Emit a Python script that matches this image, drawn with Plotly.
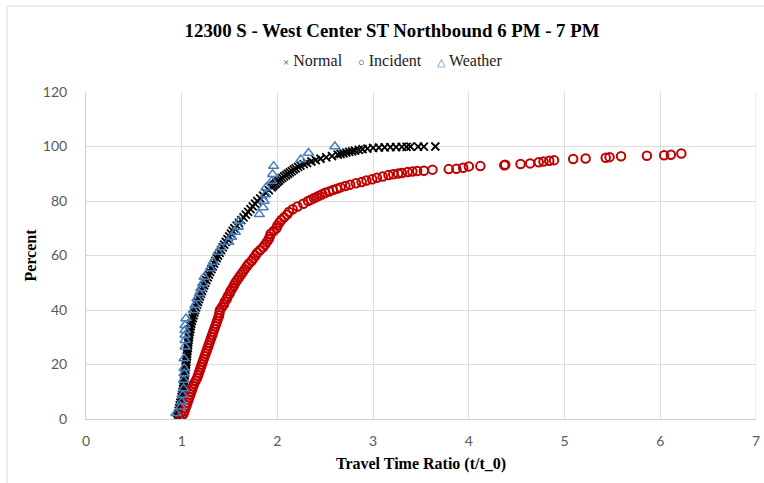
import plotly.graph_objects as go

# ---- cumulative distributions of travel time ratio (t/t_0) vs percent ----
normal_ratio = [
    0.95, 0.956, 0.962, 0.968, 0.974, 0.98, 0.986, 0.992, 0.998, 1.004, 1.01,
    1.014, 1.018, 1.022, 1.026, 1.03, 1.033, 1.036, 1.039, 1.042, 1.045,
    1.048, 1.051, 1.054, 1.057, 1.06, 1.063, 1.066, 1.069, 1.072, 1.075,
    1.08, 1.085, 1.09, 1.095, 1.10, 1.108, 1.116, 1.124, 1.132, 1.14,
    1.15, 1.16, 1.17, 1.18, 1.19, 1.201, 1.212, 1.223, 1.234, 1.245,
    1.258, 1.271, 1.284, 1.297, 1.31, 1.324, 1.338, 1.352, 1.366, 1.38,
    1.396, 1.412, 1.428, 1.444, 1.46, 1.478, 1.496, 1.514, 1.532, 1.55,
    1.574, 1.598, 1.622, 1.646, 1.67, 1.694, 1.718, 1.742, 1.766, 1.79,
    1.82, 1.85, 1.88, 1.91, 1.94, 1.955, 1.97, 1.985, 2.0, 2.015, 2.03,
    2.05, 2.07, 2.09, 2.11, 2.13, 2.15, 2.17, 2.19, 2.215, 2.24, 2.275,
    2.31, 2.355, 2.40, 2.45, 2.51, 2.57, 2.63, 2.66, 2.69, 2.72, 2.75,
    2.78, 2.81, 2.85, 2.89, 2.94, 3.0, 3.06, 3.12, 3.18, 3.24, 3.3, 3.35,
    3.39, 3.47, 3.53, 3.65,
]
normal_pct = [
    0, 1, 2, 3, 4, 5, 6, 7, 8, 9, 10,
    11, 12, 13, 14, 15, 16, 17, 18, 19, 20,
    21, 22, 23, 24, 25, 26, 27, 28, 29, 30,
    31, 32, 33, 34, 35, 36, 37, 38, 39, 40,
    41, 42, 43, 44, 45, 46, 47, 48, 49, 50,
    51, 52, 53, 54, 55, 56, 57, 58, 59, 60,
    61, 62, 63, 64, 65, 66, 67, 68, 69, 70,
    71, 72, 73, 74, 75, 76, 77, 78, 79, 80,
    81, 82, 83, 84, 85, 85.5, 86, 86.5, 87, 87.5, 88,
    88.5, 89, 89.5, 90, 90.5, 91, 91.5, 92, 92.5, 93, 93.5,
    94, 94.5, 95, 95.5, 96, 96.5, 97, 97.25, 97.5, 97.75, 98,
    98.25, 98.5, 98.75, 99, 99.25, 99.5, 99.6, 99.7, 99.75, 99.8, 99.85, 99.9,
    99.92, 99.96, 99.98, 100,
]

incident_ratio = [
    0.98, 1.0, 1.02, 1.03, 1.04, 1.05, 1.06, 1.07, 1.08, 1.09, 1.10,
    1.11, 1.12, 1.13, 1.145, 1.16, 1.17, 1.18, 1.19, 1.20, 1.21,
    1.22, 1.23, 1.24, 1.25, 1.26, 1.27, 1.28, 1.29, 1.30, 1.31,
    1.32, 1.33, 1.34, 1.35, 1.36, 1.37, 1.38, 1.39, 1.395, 1.40,
    1.42, 1.44, 1.45, 1.47, 1.48, 1.50, 1.51, 1.53, 1.545, 1.56,
    1.58, 1.60, 1.62, 1.64, 1.66, 1.68, 1.70, 1.73, 1.75, 1.77,
    1.79, 1.82, 1.85, 1.87, 1.89, 1.91, 1.92, 1.93, 1.96, 1.99,
    2.0, 2.02, 2.04, 2.07, 2.10, 2.12, 2.16, 2.21, 2.27, 2.32,
    2.35, 2.38, 2.41, 2.44, 2.47, 2.50, 2.54, 2.58, 2.62, 2.66,
    2.71, 2.76, 2.82, 2.88, 2.93, 2.99, 3.04, 3.10, 3.16, 3.21,
    3.26, 3.30, 3.36, 3.41, 3.46, 3.53, 3.62, 3.79, 3.87, 3.94,
    4.0, 4.12, 4.37, 4.38, 4.54, 4.64, 4.73, 4.78, 4.84, 4.89,
    5.09, 5.22, 5.43, 5.47, 5.59, 5.86, 6.04, 6.11, 6.22,
]
incident_pct = [
    0, 1, 2, 3, 4, 5, 6, 7, 8, 9, 10,
    11, 12, 13, 14, 15, 16, 17, 18, 19, 20,
    21, 22, 23, 24, 25, 26, 27, 28, 29, 30,
    31, 32, 33, 34, 35, 36, 37, 38, 39, 40,
    41, 42, 43, 44, 45, 46, 47, 48, 49, 50,
    51, 52, 53, 54, 55, 56, 57, 58, 59, 60,
    61, 62, 63, 64, 65, 66, 67, 68, 69, 70,
    71, 72, 73, 74, 75, 76, 77, 78, 79, 80,
    80.5, 81, 81.5, 82, 82.5, 83, 83.5, 84, 84.5, 85,
    85.5, 86, 86.5, 87, 87.5, 88, 88.5, 89, 89.5, 89.8,
    90.1, 90.3, 90.6, 90.8, 91.0, 91.1, 91.5, 91.7, 91.8, 92.2,
    92.7, 92.8, 93.1, 93.3, 93.6, 93.8, 94.2, 94.5, 94.8, 95.0,
    95.4, 95.6, 95.9, 96.1, 96.4, 96.6, 96.8, 97.0, 97.4,
]

weather_ratio = [
    0.94, 0.99, 1.0, 1.01, 1.02, 1.02, 1.025, 1.025, 1.025, 1.035,
    1.035, 1.035, 1.035, 1.035, 1.045, 1.12, 1.14, 1.16, 1.185, 1.20,
    1.22, 1.235, 1.30, 1.33, 1.38, 1.41, 1.49, 1.52, 1.56, 1.59,
    1.60, 1.81, 1.85, 1.86, 1.875, 1.88, 1.94, 1.95, 1.96, 2.245,
    2.325, 2.6,
]
weather_pct = [
    2.1, 4.5, 6.3, 8.8, 11.2, 14.3, 16.7, 18.6, 22.2, 26.5,
    28.9, 30.8, 32.6, 34.4, 36.9, 39.9, 41.8, 44.2, 46.1, 47.9,
    49.7, 52.1, 55.2, 57.6, 61.3, 62.9, 65.0, 66.8, 68.6, 70.5,
    72.7, 75.1, 77.6, 80.0, 82.4, 84.9, 87.3, 89.8, 92.8, 95.2,
    97.6, 100,
]

series_names = ["Normal", "Incident", "Weather"]
series_colors = ["#000000", "#C00000", "#4A7EBB"]
legend_glyphs = ["×", "○", "△"]

title_text = "12300 S - West Center ST Northbound 6 PM - 7 PM"
x_title = "Travel Time Ratio (t/t_0)"
y_title = "Percent"

# ---- page geometry (pixels) ----
W, H = 764, 483
L, R, T, B = 86, 8, 92, 64

SERIF = "Liberation Serif, Times New Roman, serif"
SANS = "Lato, Liberation Sans, sans-serif"

fig = go.Figure()
fig.add_trace(go.Scatter(
    x=normal_ratio, y=normal_pct, mode="markers", name=series_names[0],
    marker=dict(symbol="x-thin-open", size=8, color=series_colors[0],
                line=dict(color=series_colors[0], width=1.8)),
))
fig.add_trace(go.Scatter(
    x=incident_ratio, y=incident_pct, mode="markers", name=series_names[1],
    marker=dict(symbol="circle-open", size=8.5, color=series_colors[1],
                line=dict(color=series_colors[1], width=2)),
))
fig.add_trace(go.Scatter(
    x=weather_ratio, y=weather_pct, mode="markers", name=series_names[2],
    marker=dict(symbol="triangle-up-open", size=9, color=series_colors[2],
                line=dict(color=series_colors[2], width=1.5)),
))

grid = "#DDDDDD"
fig.update_layout(
    width=W, height=H,
    margin=dict(l=L, r=R, t=T, b=B, pad=0, autoexpand=False),
    paper_bgcolor="white", plot_bgcolor="white",
    title=dict(text=f"<b>{title_text}</b>", x=392 / W, xanchor="center",
               xref="container", y=1 - 30 / H, yref="container",
               yanchor="middle", font=dict(family=SERIF, size=18.8, color="black")),
    showlegend=False,
)
fig.update_xaxes(
    range=[0, 7], dtick=1, tick0=0, showgrid=True, gridcolor=grid, gridwidth=1,
    zeroline=False, showline=True, linecolor="#D0D0D0", linewidth=1,
    ticks="", ticklabelstandoff=9, automargin=False,
    tickfont=dict(family=SANS, size=14, color="#595959"),
    title=dict(text=f"<b>{x_title}</b>", standoff=10,
               font=dict(family=SERIF, size=16, color="black")),
)
fig.update_yaxes(
    range=[0, 120], dtick=20, tick0=0, showgrid=True, gridcolor=grid, gridwidth=1,
    zeroline=False, showline=True, linecolor="#D0D0D0", linewidth=1,
    ticks="", ticklabelstandoff=15, automargin=False,
    tickfont=dict(family=SANS, size=14, color="#595959"),
    title=dict(text=f"<b>{y_title}</b>", standoff=2,
               font=dict(family=SERIF, size=16, color="black")),
)
# outer plot edge at x = 7
fig.add_shape(type="line", xref="x", yref="y", x0=7, x1=7, y0=0, y1=120,
              line=dict(color=grid, width=1), layer="below")

# legend row: glyph + series name, centred under the title
legend_parts = []
for glyph, name, color in zip(legend_glyphs, series_names, series_colors):
    shade = "#444444" if name == "Normal" else color
    legend_parts.append(
        f"<span style='color:{shade};font-size:11px'>{glyph}</span>"
        f"<span style='color:#1a1a1a'> {name}</span>"
    )
fig.add_annotation(
    text="&nbsp;&nbsp;&nbsp;&nbsp;".join(legend_parts),
    xref="paper", yref="paper", showarrow=False,
    x=(392 - L) / (W - L - R), y=1 + (T - 61) / (H - T - B),
    xanchor="center", yanchor="middle",
    font=dict(family=SERIF, size=16),
)

# chart frame: left and top edges visible inside the page
px_x = lambda p: (p - L) / (W - L - R)
px_y = lambda p: 1 - (p - T) / (H - T - B)
fig.add_shape(type="line", xref="paper", yref="paper",
              x0=px_x(7), x1=px_x(7), y0=px_y(6), y1=px_y(H + 5),
              line=dict(color="#D9D9D9", width=1))
fig.add_shape(type="line", xref="paper", yref="paper",
              x0=px_x(7), x1=px_x(W + 5), y0=px_y(6), y1=px_y(6),
              line=dict(color="#D9D9D9", width=1))

fig.write_html("out.html")
